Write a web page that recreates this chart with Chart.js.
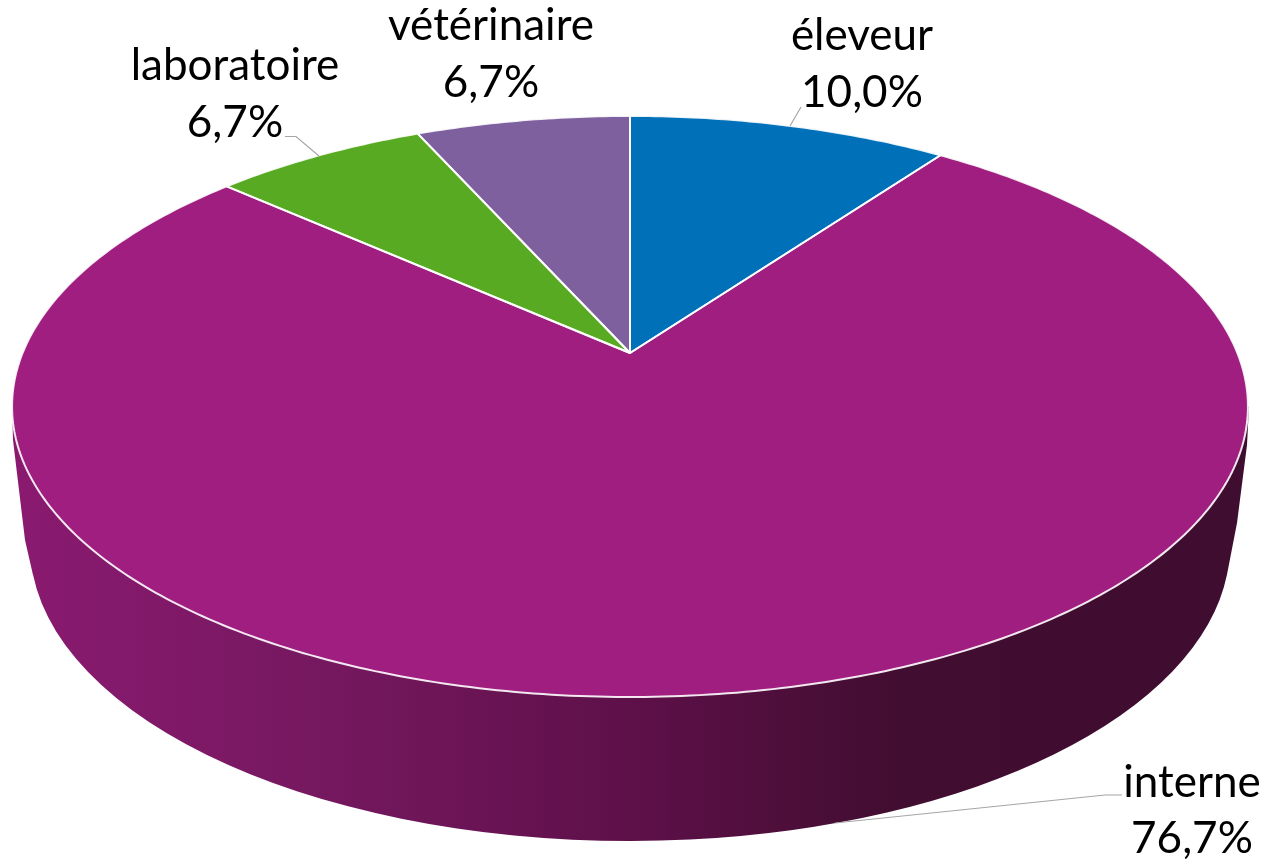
<!DOCTYPE html>
<html><head><meta charset="utf-8">
<style>html,body{margin:0;padding:0;background:#fff}canvas{display:block}</style>
<script src="https://cdn.jsdelivr.net/npm/chart.js@4"></script>
</head><body>
<canvas id="c" width="1270" height="865"></canvas>
<script>
const categories = ['éleveur','interne','laboratoire','vétérinaire'];
const shares = [10.0,76.7,6.7,6.7];
const sliceColors = ['#0070b8','#9f1e80','#57aa22','#7f609f'];

// perspective of the disc: apex, half-axes, foreshortening
const APEX = {x:630,y:353}, AX = 607.4, BY = 280.7, K = 0.184;
const project = a => { // a: Chart.js arc angle (top = -PI/2)
  const t = a + Math.PI/2, u = Math.sin(t), v = Math.cos(t), d = 1 + K*v;
  return {x: APEX.x + AX*u/d, y: APEX.y - BY*v/d};
};
const labelSpots = [
  {x:862,y1:50,y2:107,lead:[[790,126],[801,107]]},
  {x:1192,y1:797,y2:853,lead:[[1122,795],[1105,795],[835,823]]},
  {x:235,y1:80,y2:137,lead:[[285,136.5],[296,136.5],[319,156]]},
  {x:491,y1:40,y2:97,lead:[]}
];
const fmt = v => v.toFixed(1).replace('.',',') + '%';

const disc3d = {
  id:'disc3d',
  beforeDatasetDraw(chart,args){
    const ctx = chart.ctx, arcs = args.meta.data;
    // side wall
    const g = ctx.createLinearGradient(12,0,1249,0);
    g.addColorStop(0,'#8a1a70'); g.addColorStop(0.25,'#761860');
    g.addColorStop(0.5,'#5e1049'); g.addColorStop(0.72,'#410d30'); g.addColorStop(1,'#3f0d30');
    ctx.save();
    ctx.fillStyle = g;
    ctx.beginPath();
    ctx.moveTo(13,440); ctx.lineTo(25,540); ctx.lineTo(33,575);
    ctx.ellipse(630,545,600,296,0,Math.PI-0.1,0.1,true);
    ctx.lineTo(1237,523); ctx.lineTo(1247,445);
    ctx.lineTo(1249,406); ctx.lineTo(12,406);
    ctx.closePath(); ctx.fill();
    // top slices
    arcs.forEach(arc=>{
      const s = arc.startAngle, e = arc.endAngle, n = Math.ceil((e-s)*80);
      ctx.beginPath(); ctx.moveTo(APEX.x,APEX.y);
      for(let i=0;i<=n;i++){const p=project(s+(e-s)*i/n); ctx.lineTo(p.x,p.y);}
      ctx.closePath();
      ctx.fillStyle = arc.options.backgroundColor; ctx.fill();
    });
    ctx.strokeStyle = 'rgba(255,255,255,0.9)'; ctx.lineWidth = 2; ctx.lineJoin='round';
    arcs.forEach(arc=>{
      const s = arc.startAngle, e = arc.endAngle, n = Math.ceil((e-s)*80);
      ctx.beginPath(); ctx.moveTo(APEX.x,APEX.y);
      for(let i=0;i<=n;i++){const p=project(s+(e-s)*i/n); ctx.lineTo(p.x,p.y);}
      ctx.closePath(); ctx.stroke();
    });
    ctx.restore();
    return false;
  },
  afterDraw(chart){
    const ctx = chart.ctx;
    ctx.save();
    ctx.strokeStyle='#a6a6a6'; ctx.lineWidth=1.2;
    ctx.fillStyle='#000'; ctx.font='44px Lato'; ctx.textAlign='center'; ctx.textBaseline='alphabetic';
    categories.forEach((c,i)=>{
      const l = labelSpots[i];
      if(l.lead.length){ctx.beginPath(); l.lead.forEach((p,j)=>j?ctx.lineTo(p[0],p[1]):ctx.moveTo(p[0],p[1])); ctx.stroke();}
      ctx.fillText(c,l.x,l.y1); ctx.fillText(fmt(shares[i]),l.x,l.y2);
    });
    ctx.restore();
  }
};

new Chart(document.getElementById('c'),{
  type:'pie',
  data:{labels:categories,datasets:[{data:shares,backgroundColor:sliceColors,borderWidth:0}]},
  options:{responsive:false,animation:false,plugins:{legend:{display:false},tooltip:{enabled:false}}},
  plugins:[disc3d]
});
</script>
</body></html>
